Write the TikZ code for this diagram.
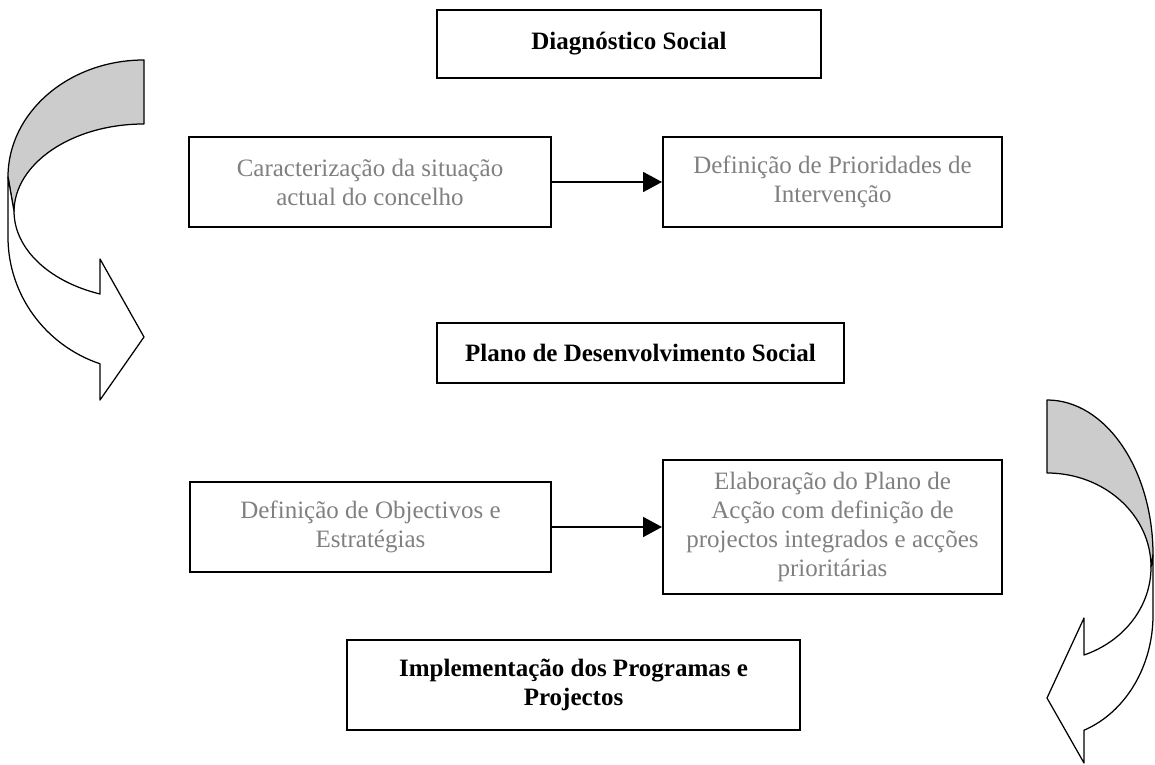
\documentclass[tikz,border=0pt]{standalone}
\usepackage{fontspec}
\setmainfont{Liberation Serif}
\usetikzlibrary{arrows.meta}

\begin{document}
\begin{tikzpicture}[
  x=0.48pt, y=-0.48pt,
  >=Triangle,
  title/.style={draw,line width=1pt,align=center,font=\fontsize{12}{13.9}\selectfont\bfseries},
  task/.style={draw,line width=1pt,align=center,text=gray,font=\fontsize{12}{13.9}\selectfont},
  flow/.style={-{Triangle[length=9pt,width=9.5pt]},line width=0.8pt},
  ribbon/.style={line width=0.6pt,line join=round}
]
  \useasboundingbox (0,0) rectangle (1155,765);

  % stages
  \node[title,minimum width=184.3pt,minimum height=32.6pt] (diag) at (629,44) {Diagnóstico Social};
  \node[task,minimum width=173.8pt,minimum height=43.2pt] (carac) at (370,182)
    {Caracterização da situação\\actual do concelho};
  \node[task,minimum width=162.7pt,minimum height=43.2pt] (prior) at (832.5,182)
    {Definição de Prioridades de\\Intervenção};
  \node[title,minimum width=195.4pt,minimum height=28.8pt] (plano) at (640.5,353) {Plano de Desenvolvimento Social};
  \node[task,minimum width=173.3pt,minimum height=43.2pt] (objec) at (370.5,527)
    {Definição de Objectivos e\\Estratégias};
  \node[task,minimum width=162.7pt,minimum height=64.3pt] (elab) at (832.5,527)
    {Elaboração do Plano de\\Acção com definição de\\projectos integrados e acções\\prioritárias};
  \node[title,minimum width=217.4pt,minimum height=43.2pt] (impl) at (573.5,685)
    {Implementação dos Programas e\\Projectos};

  \draw[flow] (carac) -- (prior);
  \draw[flow] (objec) -- (elab);

  % curved arrow, left
  \filldraw[ribbon,fill=gray!40] (144,60) arc[start angle=270,end angle=180,x radius=136,y radius=117]
    -- (14,212) arc[start angle=180,end angle=270,x radius=130,y radius=88] -- cycle;
  \filldraw[ribbon,fill=white] (8,177) -- (8,237)
    arc[start angle=180,end angle=108.9,x radius=136,y radius=134]
    -- (100,400) -- (144,337) -- (100,259) -- (100,294)
    arc[start angle=109.8,end angle=180,x radius=130,y radius=88] -- cycle;

  % curved arrow, right
  \filldraw[ribbon,fill=gray!40] (1047,400) arc[start angle=270,end angle=360,x radius=106,y radius=155]
    -- (1151,567) arc[start angle=0,end angle=-90,x radius=104,y radius=94] -- cycle;
  \filldraw[ribbon,fill=white] (1153,555) -- (1153,615)
    arc[start angle=0,end angle=69.6,x radius=106,y radius=123]
    -- (1084,763) -- (1047,698) -- (1084,618) -- (1084,655)
    arc[start angle=69.16,end angle=0,x radius=104,y radius=94] -- cycle;
\end{tikzpicture}
\end{document}
